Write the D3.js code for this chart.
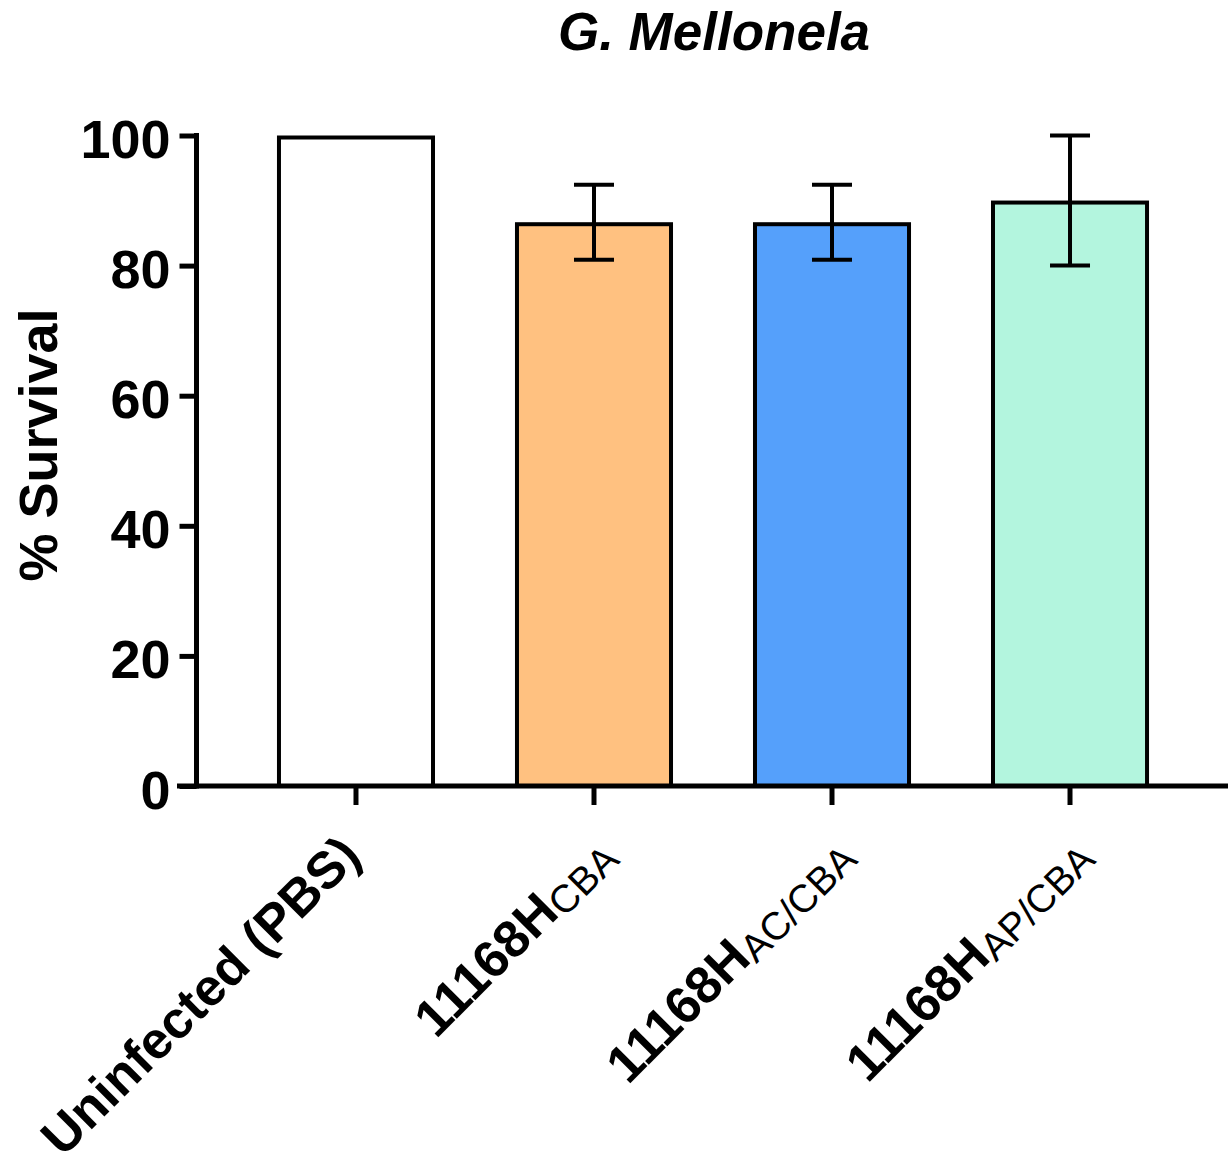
<!DOCTYPE html>
<html>
<head>
<meta charset="utf-8">
<script src="https://cdn.jsdelivr.net/npm/d3@7/dist/d3.min.js"></script>
<style>
  html, body { margin: 0; padding: 0; background: #fff; }
  svg { display: block; }
  text { font-family: "Liberation Sans", Arial, Helvetica, sans-serif; fill: #000; }
</style>
</head>
<body>
<svg id="chart" width="1228" height="1166"></svg>
<script>
// ---- data ----
const categories = ["Uninfected (PBS)", "11168H_CBA", "11168H_AC/CBA", "11168H_AP/CBA"];
const labelMain = ["Uninfected (PBS)", "11168H", "11168H", "11168H"];
const labelSub = ["", "CBA", "AC/CBA", "AP/CBA"];
const survival = [100, 86.67, 86.67, 90];
const errorSD = [0, 5.77, 5.77, 10];
const barColors = ["#FFFFFF", "#FFC180", "#55A0FB", "#B3F5DE"];
const yTicks = [0, 20, 40, 60, 80, 100];
const title = "G. Mellonela";
const yTitle = "% Survival";

// ---- layout ----
const svg = d3.select("#chart");
const axisX = 196.5;
const y0 = 786;
const y = d3.scaleLinear().domain([0, 100]).range([y0, 135.5]);
const x = d3.scaleBand().domain(categories).range([197, 1229]).paddingInner(0.336).paddingOuter(0.336);

// title
svg.append("text")
  .attr("x", 714).attr("y", 50)
  .attr("text-anchor", "middle")
  .style("font-size", "53px").style("font-weight", "bold").style("font-style", "italic")
  .text(title);

// y axis title
svg.append("text")
  .attr("transform", "translate(57,445) rotate(-90)")
  .attr("text-anchor", "middle")
  .style("font-size", "54px").style("font-weight", "bold")
  .text(yTitle);

// bars (stroke inside)
const sw = 4;
svg.selectAll("rect.bar").data(categories).join("rect")
  .attr("class", "bar")
  .attr("x", d => x(d) + sw / 2)
  .attr("y", (d, i) => y(survival[i]) + sw / 2)
  .attr("width", x.bandwidth() - sw)
  .attr("height", (d, i) => y0 - y(survival[i]) - sw / 2)
  .attr("fill", (d, i) => barColors[i])
  .attr("stroke", "#000")
  .attr("stroke-width", sw);

// error bars
const capW = 40;
const eb = svg.append("g").attr("stroke", "#000").attr("stroke-width", 4).attr("fill", "none");
categories.forEach((c, i) => {
  if (!errorSD[i]) return;
  const cx = x(c) + x.bandwidth() / 2;
  const hi = y(survival[i] + errorSD[i]);
  const lo = y(survival[i] - errorSD[i]);
  eb.append("line").attr("x1", cx).attr("x2", cx).attr("y1", hi).attr("y2", lo);
  eb.append("line").attr("x1", cx - capW / 2).attr("x2", cx + capW / 2).attr("y1", hi).attr("y2", hi);
  eb.append("line").attr("x1", cx - capW / 2).attr("x2", cx + capW / 2).attr("y1", lo).attr("y2", lo);
});

// y axis
const yAxis = d3.axisLeft(y).tickValues(yTicks).tickSize(17).tickPadding(9).tickSizeOuter(0);
const gy = svg.append("g").attr("transform", `translate(${axisX},0)`).call(yAxis);
gy.select(".domain").attr("stroke", "#000").attr("stroke-width", 5)
  .attr("d", `M0,${y(100) - 2.5}V${y0 + 2.5}`);
gy.selectAll(".tick line").attr("stroke", "#000").attr("stroke-width", 5);
gy.selectAll(".tick text")
  .attr("dy", null).attr("y", 22)
  .style("font-size", "54px").style("font-weight", "bold")
  .attr("font-family", null);

// x axis
const xAxis = d3.axisBottom(x).tickSize(19).tickSizeOuter(0).tickFormat("");
const gx = svg.append("g").attr("transform", `translate(0,${y0})`).call(xAxis);
gx.select(".domain").attr("stroke", "#000").attr("stroke-width", 5)
  .attr("d", `M${axisX - 19.5},0H1228`);
gx.selectAll(".tick line").attr("stroke", "#000").attr("stroke-width", 5).attr("y1", 2);

// x labels rotated
categories.forEach((c, i) => {
  const cx = x(c) + x.bandwidth() / 2;
  const dx = labelSub[i] ? 23.5 : 7;
  const t = svg.append("text")
    .attr("transform", `translate(${cx + dx},858) rotate(-45)`)
    .attr("text-anchor", "end");
  t.append("tspan").style("font-size", "52px").style("font-weight", "bold").text(labelMain[i]);
  if (labelSub[i]) {
    t.append("tspan").attr("dy", 5).style("font-size", "39px").style("font-weight", "normal").text(labelSub[i]);
  }
});
</script>
</body>
</html>
